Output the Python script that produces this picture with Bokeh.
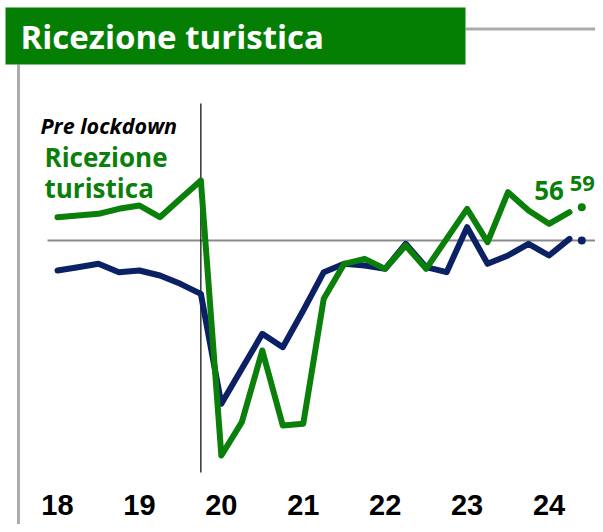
from bokeh.plotting import figure
from bokeh.models import Range1d
from bokeh.core.properties import value
from bokeh.embed import file_html
from bokeh.resources import INLINE

# ---- data (quarterly, 2018Q1 .. 2024Q2) ----
quarters = list(range(26))
green = [53, 54, 55, 58, 60, 53, 64, 75, -90, -70, -27, -72, -71, 4,
         25, 28, 22, 36, 22, 40, 58, 38, 68, 57, 49, 56]
blue = [21, 23, 25, 20, 21, 18, 13, 7, -59, -38, -17, -25, -3, 20,
        25, 24, 22, 37, 23, 20, 47, 25, 30, 37, 30, 40]
forecast_x = [25.6]
green_fc = [59]
blue_fc = [39]
ref_level = 39
lockdown_x = 7
tick_pos = [0, 4, 8, 12, 16, 20, 24]
tick_labels = ["18", "19", "20", "21", "22", "23", "24"]

GREEN = "#0a800a"
BLUE = "#0b2163"
TITLE_GREEN = "#047f04"
GRAY = "#ababab"

# ---- layout helpers (picture px -> data) ----
W, H = 595, 524
OFF = 0
X0, DX = 57, 20.48      # picture x of index 0, px per quarter
Y0, DY = 305, 1 / 0.6   # picture y of value 0, px per unit


def sx(px):
    return (px - X0) / DX


def sy(py):
    return (Y0 - py) / DY


p = figure(width=W, height=H, output_backend="svg", toolbar_location=None,
           x_range=Range1d(sx(OFF), sx(OFF + W)),
           y_range=Range1d(sy(OFF + H), sy(OFF)),
           x_axis_location=None, y_axis_location=None, min_border=0)
p.grid.visible = False
p.outline_line_color = None
p.background_fill_color = "white"
p.border_fill_color = "white"

# frame lines
p.line([sx(465), sx(610)], [sy(28.5), sy(28.5)], line_color=GRAY, line_width=3)
p.line([sx(18), sx(18)], [sy(64), sy(540)], line_color=GRAY, line_width=3)

# title box
p.quad(left=[sx(5)], right=[sx(465)], top=[sy(7)], bottom=[sy(64)],
       fill_color=TITLE_GREEN, line_color=None)
p.text(x=[sx(20)], y=[sy(36)], text=["Ricezione turistica"],
       text_font=value("Open Sans"), text_font_style="bold",
       text_font_size="33px", text_color="white",
       text_align="left", text_baseline="middle")

# reference line and lockdown marker
p.line([sx(47), sx(610)], [ref_level, ref_level], line_color="#8a8a8a", line_width=2)
p.line([lockdown_x, lockdown_x], [sy(103), sy(472)], line_color="black", line_width=1.2)

# series
p.line(quarters, blue, line_color=BLUE, line_width=6, line_join="round", line_cap="round")
p.line(quarters, green, line_color=GREEN, line_width=6, line_join="round", line_cap="round")
p.scatter(forecast_x, blue_fc, size=8, fill_color=BLUE, line_color=None)
p.scatter(forecast_x, green_fc, size=8, fill_color=GREEN, line_color=None)

# annotations
p.text(x=[sx(40)], y=[sy(125)], text=["Pre lockdown"],
       text_font=value("Open Sans"), text_font_style="bold italic",
       text_font_size="21.5px", text_color="black",
       text_align="left", text_baseline="middle")
p.text(x=[sx(44), sx(44)], y=[sy(156), sy(187)], text=["Ricezione", "turistica"],
       text_font=value("Open Sans"), text_font_style="bold",
       text_font_size="26px", text_color=GREEN,
       text_align="left", text_baseline="middle")
p.text(x=[quarters[-1] - 1], y=[green[-1]], x_offset=[0], y_offset=[-22],
       text=[str(green[-1])],
       text_font=value("Open Sans"), text_font_style="bold",
       text_font_size="26px", text_color=GREEN,
       text_align="center", text_baseline="middle")
p.text(x=forecast_x, y=green_fc, y_offset=[-24], x_offset=[-12],
       text=[str(green_fc[0])],
       text_font=value("Open Sans"), text_font_style="bold",
       text_font_size="22px", text_color=GREEN,
       text_align="left", text_baseline="middle")

# tick labels
p.text(x=tick_pos, y=[sy(504)] * len(tick_pos), text=tick_labels,
       text_font=value("Liberation Sans"), text_font_style="bold",
       text_font_size="29px", text_color="black",
       text_align="center", text_baseline="middle")

open("out.html", "w").write(file_html(p, INLINE))
